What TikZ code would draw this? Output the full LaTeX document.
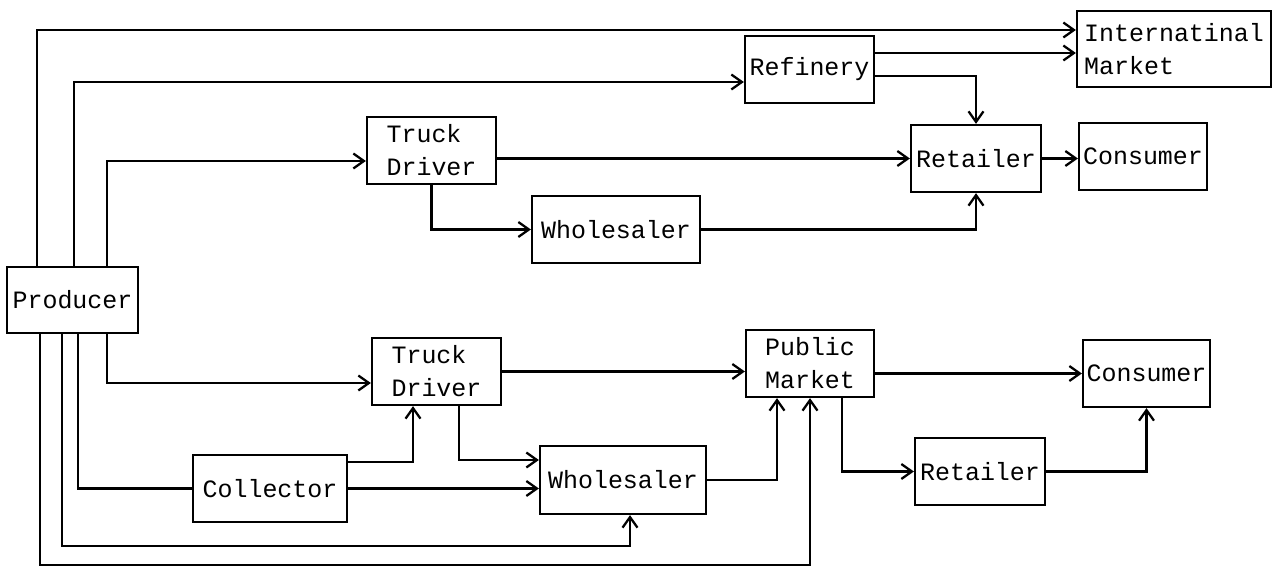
\documentclass[tikz,border=0pt]{standalone}
\usepackage{fontspec}
\setmonofont{Liberation Mono}
\usetikzlibrary{arrows.meta}
\tikzset{
  box/.style={draw, line width=1.3pt, inner sep=0pt, align=left,
    font=\ttfamily\fontsize{14.2}{18.8}\selectfont},
  flow/.style={line width=1.3pt, -{Straight Barb[length=6pt,width=8.5pt]}}
}
\begin{document}
\begin{tikzpicture}[x=0.02cm,y=-0.02cm]
    \useasboundingbox (0,0) rectangle (1280,567);
    % boxes
    \node[box, minimum width=2.62cm, minimum height=1.32cm] (prod) at (72.5,300) {Producer};
    \node[box, minimum width=2.58cm, minimum height=1.34cm] (td1) at (431.5,150.5) {Truck\\Driver};
    \node[box, minimum width=2.58cm, minimum height=1.34cm] (ref) at (809.5,69.5) {Refinery};
    \node[box, minimum width=3.88cm, minimum height=1.52cm] (imkt) at (1174,49) {Internatinal\\Market};
    \node[box, minimum width=2.60cm, minimum height=1.34cm] (ret1) at (976,158.5) {Retailer};
    \node[box, minimum width=2.56cm, minimum height=1.34cm] (con1) at (1143,156.5) {Consumer};
    \node[box, minimum width=3.36cm, minimum height=1.34cm] (who1) at (616,229.5) {Wholesaler};
    \node[box, minimum width=2.58cm, minimum height=1.34cm] (td2) at (436.5,371.5) {Truck\\Driver};
    \node[box, minimum width=2.56cm, minimum height=1.34cm] (pub) at (810,363.5) {Public\\Market};
    \node[box, minimum width=2.54cm, minimum height=1.34cm] (con2) at (1146.5,373.5) {Consumer};
    \node[box, minimum width=3.32cm, minimum height=1.36cm] (who2) at (623,480) {Wholesaler};
    \node[box, minimum width=2.60cm, minimum height=1.34cm] (ret2) at (980,471.5) {Retailer};
    \node[box, minimum width=3.08cm, minimum height=1.34cm] (coll) at (270,488.5) {Collector};
    % upper chain
    \draw[flow] ([xshift=-0.71cm]prod.north) |- ([yshift=0.38cm]imkt.west);
    \draw[flow] ([xshift=0.03cm]prod.north) |- ([yshift=-0.25cm]ref.west);
    \draw[flow] ([xshift=0.69cm]prod.north) |- ([yshift=-0.21cm]td1.west);
    \draw[flow] ([yshift=0.33cm]ref.east) -- ([yshift=0.33cm]ref.east -| imkt.west);
    \draw[flow] ([yshift=-0.13cm]ref.east) -| (ret1.north);
    \draw[flow] (td1.east |- ret1.west) -- (ret1.west);
    \draw[flow] (td1.south) |- (who1.west);
    \draw[flow] (who1.east) -| (ret1.south);
    \draw[flow] (ret1.east) -- (ret1.east -| con1.west);
    % lower chain
    \draw[flow] ([xshift=0.69cm]prod.south) |- ([yshift=-0.23cm]td2.west);
    \draw[flow] (td2.east) -- (td2.east -| pub.west);
    \draw[flow] ([xshift=0.45cm]td2.south) |- ([yshift=0.4cm]who2.west);
    \draw[flow] ([yshift=0.53cm]coll.east) -| ([xshift=-0.47cm]td2.south);
    \draw[flow] (coll.east) -- (coll.east -| who2.west);
    \draw[line width=1.3pt] ([xshift=0.11cm]prod.south) |- (coll.west);
    \draw[flow] ([xshift=-0.21cm]prod.south) |- ([xshift=0.14cm,yshift=-0.62cm]who2.south) -- ([xshift=0.14cm]who2.south);
    \draw[flow] ([xshift=-0.65cm]prod.south) |- ([yshift=-3.34cm]pub.south) -- (pub.south);
    \draw[flow] (who2.east) -| ([xshift=-0.66cm]pub.south);
    \draw[flow] (pub.east |- con2.west) -- (con2.west);
    \draw[flow] ([xshift=0.64cm]pub.south) |- (ret2.west);
    \draw[flow] (ret2.east) -| (con2.south);
\end{tikzpicture}
\end{document}
